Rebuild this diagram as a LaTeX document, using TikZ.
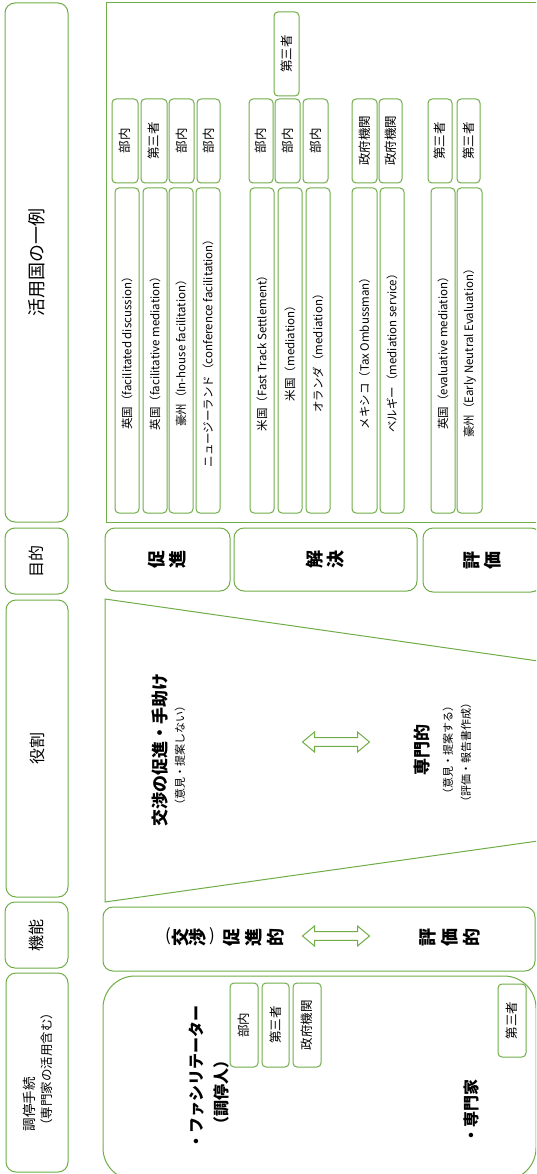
\documentclass[tikz,border=0pt]{standalone}
\usepackage{fontspec}
\setmainfont{Noto Sans CJK JP}
\definecolor{gr}{HTML}{70AD47}
\tikzset{
  gb/.style={draw=gr,line width=1pt,rounded corners=4pt,inner sep=0pt,outer sep=0pt,align=center,fill=white},
  hb/.style={gb,rounded corners=10pt},
  sm/.style={font=\fontsize{12.5}{14}\selectfont},
  lg/.style={font=\fontsize{11.5}{14}\selectfont},
  hd/.style={font=\fontsize{16}{19}\selectfont},
  big/.style={font=\fontsize{18}{21}\selectfont\bfseries},
  txt/.style={rotate=90,inner sep=0pt,outer sep=0pt},
}
\newcommand\gbox[7][]{%
  \pgfmathsetmacro\gbcx{(#3+#5)/2}\pgfmathsetmacro\gbcy{(#4+#6)/2}%
  \pgfmathsetmacro\gbww{#6-#4}\pgfmathsetmacro\gbhh{#5-#3}%
  \node[gb,rotate=90,minimum width=\gbww pt,minimum height=\gbhh pt,#1] (#2) at (\gbcx,\gbcy) {#7};}
\newcommand\dblarrow[2]{\draw[gr,line width=1pt,fill=white] (#1-33.5,#2) -- ++(12,-10) -- ++(0,5.7) -- ++(43,0) -- ++(0,-5.7) -- ++(12,10) -- ++(-12,10) -- ++(0,-5.7) -- ++(-43,0) -- ++(0,5.7) -- cycle;}
\begin{document}
\begin{tikzpicture}[x=1pt,y=-1pt]
\useasboundingbox (0,0) rectangle (536,1174);
\clip (0,0) rectangle (536,1174);
\fill[white] (0,0) rectangle (536,1174);

% left header column
\gbox[hb,font=\fontsize{18}{21}\selectfont]{h1}{5}{3}{68}{522}{活用国の一例}
\gbox[hb,hd]{h2}{5}{528}{68}{594}{目的}
\gbox[hb,hd]{h3}{6}{600}{68}{897}{役割}
\gbox[hb,hd]{h4}{5}{902}{68}{968}{機能}
\gbox[hb]{h5}{6}{973}{68}{1172}{}
\node[txt,font=\fontsize{13.5}{16}\selectfont] (h5a) at (29,1104) {調停手続};
\node[txt,font=\fontsize{12.5}{15}\selectfont] (h5b) at (47,1069) {（専門家の活用含む）};

% examples frame
\draw[gr,line width=1pt] (545,3) -- (106,3) -- (106,522) -- (545,522);
\coordinate (fr) at (106,3);

% short boxes
\gbox[sm]{s0}{274}{12}{299}{96}{第三者}
\gbox[sm]{s1}{112}{99}{138}{183}{部内}
\gbox[sm]{s2}{141}{99}{167}{183}{第三者}
\gbox[sm]{s3}{169}{99}{194}{183}{部内}
\gbox[sm]{s4}{197}{99}{220}{183}{部内}
\gbox[sm]{s5}{249}{99}{273}{183}{部内}
\gbox[sm]{s6}{275}{99}{300}{183}{部内}
\gbox[sm]{s7}{303}{99}{328}{183}{部内}
\gbox[sm]{s8}{352}{99}{377}{183}{政府機関}
\gbox[sm]{s9}{379}{99}{402}{183}{政府機関}
\gbox[sm]{s10}{428}{99}{452}{183}{第三者}
\gbox[sm]{s11}{457}{99}{480}{183}{第三者}

% long boxes
\gbox[lg]{l1}{115}{188}{139}{513}{英国（facilitated discussion）}
\gbox[lg]{l2}{143}{188}{167}{513}{英国（facilitative mediation）}
\gbox[lg]{l3}{169}{188}{193}{513}{豪州（In-house facilitation）}
\gbox[lg]{l4}{196}{188}{220}{513}{ニュージーランド（conference facilitation）}
\gbox[lg]{l5}{250}{188}{274}{513}{米国（Fast Track Settlement）}
\gbox[lg]{l6}{278}{188}{302}{513}{米国（mediation）}
\gbox[lg]{l7}{306}{188}{330}{513}{オランダ（mediation）}
\gbox[lg]{l8}{352}{188}{377}{513}{メキシコ（Tax Ombussman）}
\gbox[lg]{l9}{380}{188}{404}{513}{ベルギー（mediation service）}
\gbox[lg]{l10}{431}{188}{455}{513}{英国（evaluative mediation）}
\gbox[lg]{l11}{457}{188}{482}{513}{豪州（Early Neutral Evaluation）}

% purpose row
\gbox[hb,big]{p1}{105}{528}{230}{591}{促\\進}
\gbox[hb,big]{p2}{234}{528}{417}{591}{解\\決}
\gbox[hb,big]{p3}{423}{528}{541}{592}{評\\価}

% role trapezoid
\draw[gr,line width=1pt] (545,662) -- (105,599) -- (105,902) -- (545,840);
\node[txt,font=\fontsize{17}{20}\selectfont\bfseries] (r1) at (160,750) {交渉の促進・手助け};
\node[txt,font=\fontsize{11}{13}\selectfont] (r2) at (180,755) {（意見・提案しない）};
\dblarrow{336}{742}
\node[txt,font=\fontsize{17}{20}\selectfont\bfseries] (r3) at (422,750) {専門的};
\node[txt,font=\fontsize{11}{13}\selectfont] (r4) at (448,750) {（意見・提案する）};
\node[txt,font=\fontsize{11}{13}\selectfont] (r5) at (466,752) {（評価・報告書作成）};

% function row
\gbox[hb]{f0}{103}{907}{535}{971}{}
\node[inner sep=0pt,font=\fontsize{17}{20}\selectfont] (fp1) at (168,936) {(};
\node[inner sep=0pt,font=\fontsize{17}{20}\selectfont] (fp2) at (212,936) {)};
\foreach \ch/\xx [count=\i] in {交/181,渉/198,促/232,進/254,的/276}
  \node[txt,big] (fa\i) at (\xx,937) {\ch};
\dblarrow{336}{936}
\foreach \ch/\xx [count=\i] in {評/428,価/450,的/472}
  \node[txt,big] (fb\i) at (\xx,937) {\ch};

% procedure row
\gbox[gb,rounded corners=32pt]{m0}{103}{976}{536}{1180}{}
\node[txt,font=\fontsize{16}{19}\selectfont\bfseries] (m1) at (197,1077) {・ファシリテーター};
\node[txt,font=\fontsize{16}{19}\selectfont\bfseries] (m2) at (221,1092) {（調停人）};
\gbox[sm]{m3}{230}{983}{258}{1067}{部内}
\gbox[sm]{m4}{262}{983}{289}{1067}{第三者}
\gbox[sm]{m5}{293}{983}{321}{1067}{政府機関}
\node[txt,font=\fontsize{16}{19}\selectfont\bfseries] (m6) at (471,1111) {・専門家};
\gbox[sm]{m7}{498}{984}{526}{1057}{第三者}
\end{tikzpicture}
\end{document}
